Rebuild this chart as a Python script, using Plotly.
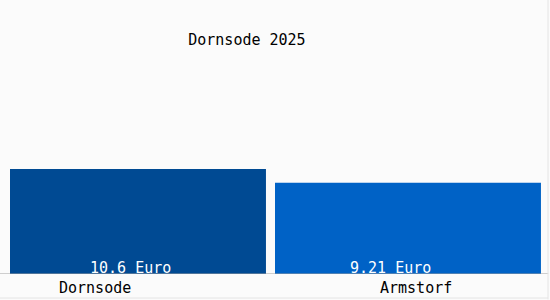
import plotly.graph_objects as go

categories = ["Dornsode", "Armstorf"]
values = [10.6, 9.21]
value_labels = ["10.6 Euro", "9.21 Euro"]
bar_colors = ["#004a93", "#0062c6"]
title_text = "Dornsode 2025"

FONT = "DejaVu Sans Mono"

fig = go.Figure()
fig.add_trace(go.Bar(
    x=categories, y=values,
    width=[0.948, 0.985], offset=[-0.4815, -0.5],
    marker=dict(color=bar_colors, line=dict(width=0)),
    hoverinfo="skip",
))

# value labels inside bars at the bottom
for cat, lab, xs in zip(categories, value_labels, [-10, -20]):
    fig.add_annotation(x=cat, y=0, xref="x", yref="y", text=lab, showarrow=False,
                       yanchor="bottom", yshift=-5, xshift=xs,
                       font=dict(family=FONT, size=15, color="white"))
# category labels below axis
for cat, xs in zip(categories, [-45, 6]):
    fig.add_annotation(x=cat, y=0, xref="x", yref="y", text=cat, showarrow=False,
                       yanchor="top", yshift=-3, xshift=xs,
                       font=dict(family=FONT, size=15, color="black"))

# baseline
fig.add_shape(type="line", xref="paper", yref="y", x0=-0.01, x1=1.006, y0=0, y1=0,
              line=dict(color="#a0a0a0", width=1))
# right and bottom border
fig.add_shape(type="line", xref="paper", yref="paper", x0=1.0056, x1=1.0056, y0=-0.1, y1=1.1,
              line=dict(color="#e4e4e4", width=1))
fig.add_shape(type="line", xref="paper", yref="paper", x0=-0.02, x1=1.0056, y0=-0.0945, y1=-0.0945,
              line=dict(color="#e4e4e4", width=1))

fig.update_layout(
    width=550, height=300,
    margin=dict(l=5, r=5, t=20, b=26),
    paper_bgcolor="#fbfbfb", plot_bgcolor="#fbfbfb",
    showlegend=False,
    title=dict(text=title_text, x=0.449, xanchor="center", y=0.867, yanchor="middle",
               font=dict(family=FONT, size=15, color="black")),
    xaxis=dict(showticklabels=False, showgrid=False, zeroline=False, showline=False,
               range=[-0.5, 1.5], fixedrange=True),
    yaxis=dict(showticklabels=False, showgrid=False, zeroline=False, showline=False,
               range=[0, 25.64], fixedrange=True),
)

fig.write_html("out.html", config={"displayModeBar": False})
